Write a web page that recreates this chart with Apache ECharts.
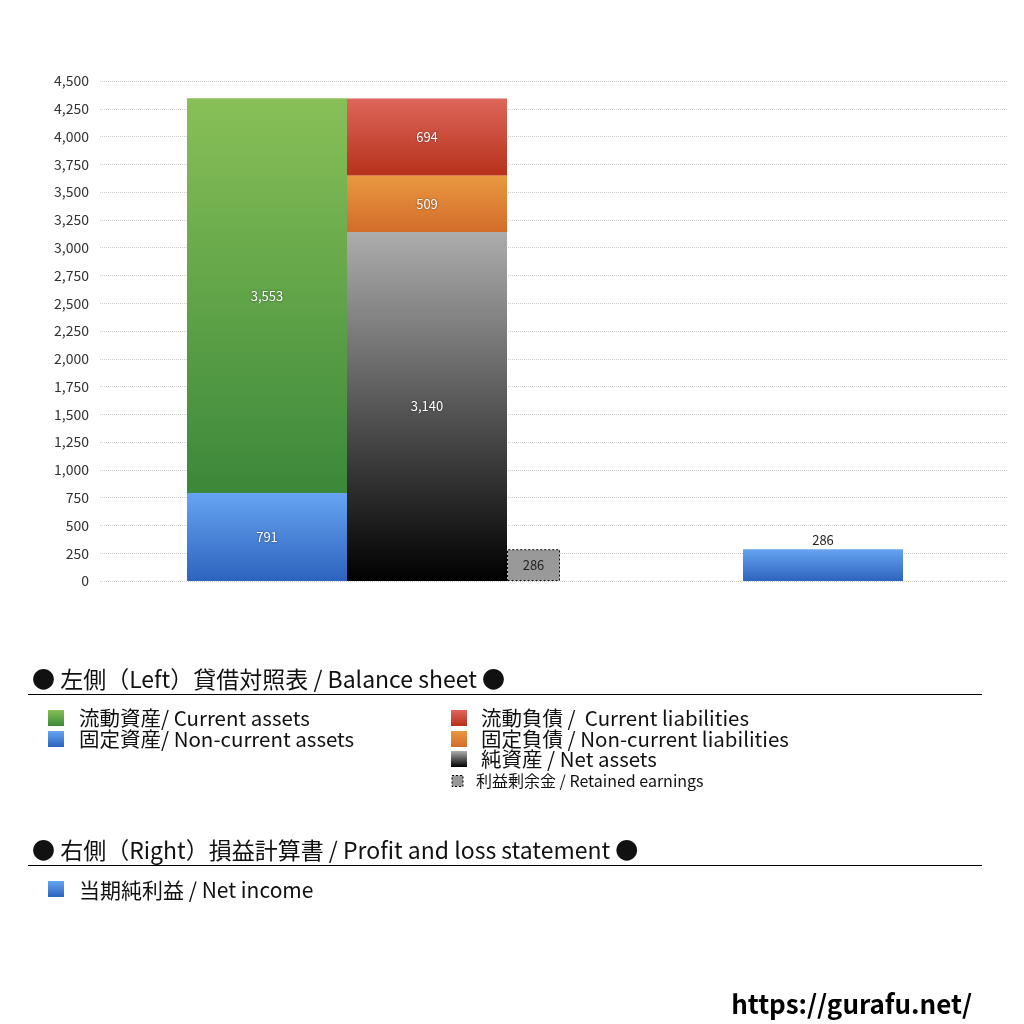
<!DOCTYPE html>
<html>
<head>
<meta charset="utf-8" />
<title>貸借対照表 / 損益計算書</title>
<script src="https://cdn.jsdelivr.net/npm/echarts@6/dist/echarts.min.js"></script>
<style>
  html, body { margin: 0; padding: 0; background: #fff; }
  #chart { width: 1024px; height: 1024px; }
</style>
</head>
<body>
<div id="chart"></div>
<script>
// データ
var categories = ['Left', 'Right'];
var currentAssets    = [3553, '-'];
var nonCurrentAssets = [791, '-'];
var currentLiab      = [694, '-'];
var nonCurrentLiab   = [509, '-'];
var netAssets        = [3140, '-'];
var retainedEarnings = [286, '-'];
var netIncome        = ['-', 286];
var yMin = 0, yMax = 4500, yStep = 250;

var FONT = '"Noto Sans CJK JP", "Noto Sans", sans-serif';

function grad(top, bottom) {
  return { type: 'linear', x: 0, y: 0, x2: 0, y2: 1,
    colorStops: [{ offset: 0, color: top }, { offset: 1, color: bottom }] };
}
var cGreen  = grad('#88c057', '#3b883a');
var cBlue   = grad('#66a4f1', '#2d63bd');
var cRed    = grad('#de665a', '#b7311b');
var cOrange = grad('#ea9840', '#d26c2a');
var cBlack  = grad('#acadac', '#000000');

function fmt(p) { return Number(p.value).toLocaleString('en-US'); }
var whiteLabel = {
  show: true, position: 'inside', color: '#fff', fontSize: 13, fontFamily: FONT,
  textShadowColor: 'rgba(0,0,0,0.6)', textShadowBlur: 2, formatter: fmt
};

function bar(name, data, stack, width, color, label, extra) {
  var s = {
    name: name, type: 'bar', xAxisIndex: 1, yAxisIndex: 1,
    data: data, barWidth: width, barGap: '0%', clip: false,
    itemStyle: { color: color }, label: label
  };
  if (stack) s.stack = stack;
  if (extra) for (var k in extra) s[k] = extra[k];
  return s;
}

// 凡例（graphic）
function sq(x, cy, size, fill, dashed) {
  return { type: 'rect', x: x, y: cy - size / 2, shape: { width: size, height: size },
    style: dashed ? { fill: fill, stroke: '#000', lineWidth: 1, lineDash: [2, 2] } : { fill: fill } };
}
function txt(x, cy, s, size) {
  return { type: 'text', x: x, y: cy,
    style: { text: s, fontSize: size, fontFamily: FONT, fill: '#111', verticalAlign: 'middle' } };
}
function hline(y) {
  return { type: 'line', shape: { x1: 28, y1: y, x2: 982, y2: y }, style: { stroke: '#000', lineWidth: 1 } };
}

var graphics = [
  txt(32, 679, '● 左側（Left）貸借対照表 / Balance sheet ●', 23),
  hline(694.5),
  sq(48, 718, 16, cGreen), txt(79, 718, '流動資産/ Current assets', 20.5),
  sq(48, 739, 16, cBlue),  txt(79, 739, '固定資産/ Non-current assets', 20.5),
  sq(451, 718, 16, cRed),    txt(481, 718, '流動負債 /  Current liabilities', 20.5),
  sq(451, 739, 16, cOrange), txt(481, 739, '固定負債 / Non-current liabilities', 20.5),
  sq(451, 759, 16, cBlack),  txt(481, 759, '純資産 / Net assets', 20.5),
  sq(452, 781, 11, '#999', true), txt(476, 781, '利益剰余金 / Retained earnings', 16),
  txt(32, 850, '● 右側（Right）損益計算書 / Profit and loss statement ●', 23),
  hline(865.5),
  sq(48, 889, 16, cBlue), txt(79, 890, '当期純利益 / Net income', 21),
  { type: 'text', x: 972, y: 1004,
    style: { text: 'https://gurafu.net/', fontSize: 26, fontWeight: 'bold', fontFamily: FONT,
      fill: '#000', align: 'right', verticalAlign: 'middle' } }
];

var chart = echarts.init(document.getElementById('chart'));
var option = {
  backgroundColor: '#fff',
  animation: false,
  grid: [
    { left: 100, right: 17, top: 81, bottom: 443 },
    { left: 362, right: 296, top: 81, bottom: 443 }
  ],
  xAxis: [
    { type: 'category', gridIndex: 0, data: categories, show: false },
    { type: 'category', gridIndex: 1, data: categories, show: false }
  ],
  yAxis: [
    { type: 'value', gridIndex: 0, min: yMin, max: yMax, interval: yStep,
      axisLine: { show: false }, axisTick: { show: false },
      axisLabel: { color: '#333', fontSize: 14, fontFamily: FONT, margin: 11,
        formatter: function (v) { return v.toLocaleString('en-US'); } },
      splitLine: { lineStyle: { color: '#cfcfcf', type: 'dotted', width: 1 } } },
    { type: 'value', gridIndex: 1, min: yMin, max: yMax, interval: yStep, show: false,
      splitLine: { show: false } }
  ],
  series: [
    bar('固定資産', nonCurrentAssets, 'assets', 160, cBlue, whiteLabel),
    bar('流動資産', currentAssets, 'assets', 160, cGreen, whiteLabel),
    bar('純資産', netAssets, 'liab', 160, cBlack, whiteLabel),
    bar('固定負債', nonCurrentLiab, 'liab', 160, cOrange, whiteLabel),
    bar('流動負債', currentLiab, 'liab', 160, cRed, whiteLabel),
    bar('利益剰余金', retainedEarnings, null, 53,
      '#999',
      { show: true, position: 'inside', color: '#222', fontSize: 13, fontFamily: FONT, formatter: fmt },
      { itemStyle: { color: '#999', borderColor: '#000', borderWidth: 1, borderType: [2, 2] } }),
    bar('当期純利益', netIncome, null, 160, cBlue,
      { show: true, position: 'top', color: '#222', fontSize: 13, fontFamily: FONT, distance: 3, formatter: fmt })
  ],
  graphic: graphics
};
chart.setOption(option);
</script>
</body>
</html>
